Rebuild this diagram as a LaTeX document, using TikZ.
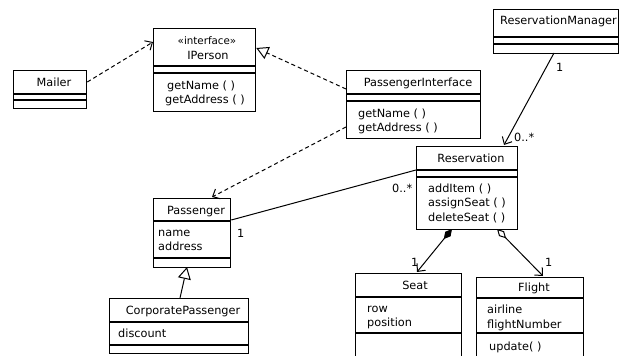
\documentclass[tikz,border=0pt]{standalone}
\usepackage{fontspec}
\setmainfont{DejaVu Sans}
\usetikzlibrary{arrows.meta}
\begin{document}
\begin{tikzpicture}[x=1pt,y=-1pt,
  cls/.style={draw,line width=1.3pt,inner sep=0,anchor=north west},
  sep/.style={line width=1.1pt},
  txt/.style={inner sep=0,font=\fontsize{11.3pt}{14pt}\selectfont},
  ttl/.style={txt,anchor=base},
  mem/.style={txt,anchor=base west},
  lbl/.style={txt,anchor=base west},
  barb/.tip={Straight Barb[length=6pt,width=11pt]},
  tri/.tip={Triangle[open,length=12pt,width=13pt,fill=white]},
  dep/.style={line width=1pt,dash pattern=on 4pt off 3pt,-{barb}},
  real/.style={line width=1pt,dash pattern=on 4pt off 3pt,-{tri}},
  gen/.style={line width=1pt,-{tri}},
  nav/.style={line width=1pt,-{barb}},
  assoc/.style={line width=1pt},
  comp/.style={line width=1pt,{Diamond[length=13pt,width=7pt]}-{barb}},
  aggr/.style={line width=1pt,{Diamond[open,length=13pt,width=7pt,fill=white]}-{barb}}]
\useasboundingbox (0,0) rectangle (619,356);
\clip (0,0) rectangle (619,356);

% Mailer
\node[cls,minimum width=73pt,minimum height=38pt] (mailer) at (13,70) {};
\draw[sep] (mailer.west |- 0,94) -- (mailer.east |- 0,94);
\draw[sep] (mailer.west |- 0,100) -- (mailer.east |- 0,100);
\node[ttl] (mailerT) at (54,86) {Mailer};

% IPerson
\node[cls,minimum width=102pt,minimum height=83pt] (iperson) at (153,28) {};
\draw[sep] (iperson.west |- 0,66) -- (iperson.east |- 0,66);
\draw[sep] (iperson.west |- 0,73) -- (iperson.east |- 0,73);
\node[ttl] (ipersonS) at (207,44) {\fontsize{10.3pt}{12pt}\selectfont «interface»};
\node[ttl] (ipersonT) at (208,59) {IPerson};
\node[mem] (ipersonM1) at (167,89) {getName ( )};
\node[mem] (ipersonM2) at (165,103) {getAddress ( )};

% PassengerInterface
\node[cls,minimum width=134pt,minimum height=68pt] (pi) at (346,70) {};
\draw[sep] (pi.west |- 0,94) -- (pi.east |- 0,94);
\draw[sep] (pi.west |- 0,101) -- (pi.east |- 0,101);
\node[ttl] (piT) at (418,86) {PassengerInterface};
\node[mem] (piM1) at (358,117) {getName ( )};
\node[mem] (piM2) at (358,131) {getAddress ( )};

% ReservationManager
\node[cls,minimum width=125pt,minimum height=44pt] (rm) at (493,9) {};
\draw[sep] (rm.west |- 0,37) -- (rm.east |- 0,37);
\draw[sep] (rm.west |- 0,44) -- (rm.east |- 0,44);
\node[mem] (rmT) at (500,24) {ReservationManager};

% Reservation
\node[cls,minimum width=101pt,minimum height=83pt] (res) at (416,146) {};
\draw[sep] (res.west |- 0,170) -- (res.east |- 0,170);
\draw[sep] (res.west |- 0,177) -- (res.east |- 0,177);
\node[ttl] (resT) at (471,162) {Reservation};
\node[mem] (resM1) at (428,192) {addItem ( )};
\node[mem] (resM2) at (428,206) {assignSeat ( )};
\node[mem] (resM3) at (428,221) {deleteSeat ( )};

% Passenger
\node[cls,minimum width=77pt,minimum height=69pt] (pass) at (153,198) {};
\draw[sep] (pass.west |- 0,221) -- (pass.east |- 0,221);
\draw[sep] (pass.west |- 0,258) -- (pass.east |- 0,258);
\node[ttl] (passT) at (196,214) {Passenger};
\node[mem] (passA1) at (158,236) {name};
\node[mem] (passA2) at (158,250) {address};

% CorporatePassenger
\node[cls,minimum width=139pt,minimum height=55pt] (corp) at (109,298) {};
\draw[sep] (corp.west |- 0,322) -- (corp.east |- 0,322);
\draw[sep] (corp.west |- 0,345) -- (corp.east |- 0,345);
\node[ttl] (corpT) at (183,314) {CorporatePassenger};
\node[mem] (corpA1) at (118,337) {discount};

% Seat
\node[cls,minimum width=106pt,minimum height=100pt] (seat) at (355,273) {};
\draw[sep] (seat.west |- 0,297) -- (seat.east |- 0,297);
\draw[sep] (seat.west |- 0,333) -- (seat.east |- 0,333);
\node[ttl] (seatT) at (415,289) {Seat};
\node[mem] (seatA1) at (367,312) {row};
\node[mem] (seatA2) at (367,326) {position};

% Flight
\node[cls,minimum width=107pt,minimum height=100pt] (flight) at (476,277) {};
\draw[sep] (flight.west |- 0,298) -- (flight.east |- 0,298);
\draw[sep] (flight.west |- 0,333) -- (flight.east |- 0,333);
\node[ttl] (flightT) at (534,291) {Flight};
\node[mem] (flightA1) at (487,313) {airline};
\node[mem] (flightA2) at (487,328) {flightNumber};
\node[mem] (flightM1) at (489,350) {update( )};

% connectors
\draw[dep] (mailer.east |- 0,82) -- (iperson.west |- 0,42);
\draw[real] (pi.west |- 0,89) -- (iperson.east |- 0,48);
\draw[dep] (pi.west |- 0,127) -- (212,197);
\draw[nav] (554,53) -- (504,145);
\draw[assoc] (pass.east |- 0,220) -- (res.west |- 0,170);
\draw[comp] (452,229) -- (417,272);
\draw[aggr] (497,229) -- (543,276);
\draw[gen] (180,298) -- (187,267);

% multiplicities
\node[lbl] (m1) at (556,71) {1};
\node[lbl] (m2) at (514,141) {0..*};
\node[lbl] (m3) at (237,237) {1};
\node[lbl] (m4) at (392,192) {0..*};
\node[lbl] (m5) at (411,266) {1};
\node[lbl] (m6) at (545,266) {1};
\end{tikzpicture}
\end{document}
